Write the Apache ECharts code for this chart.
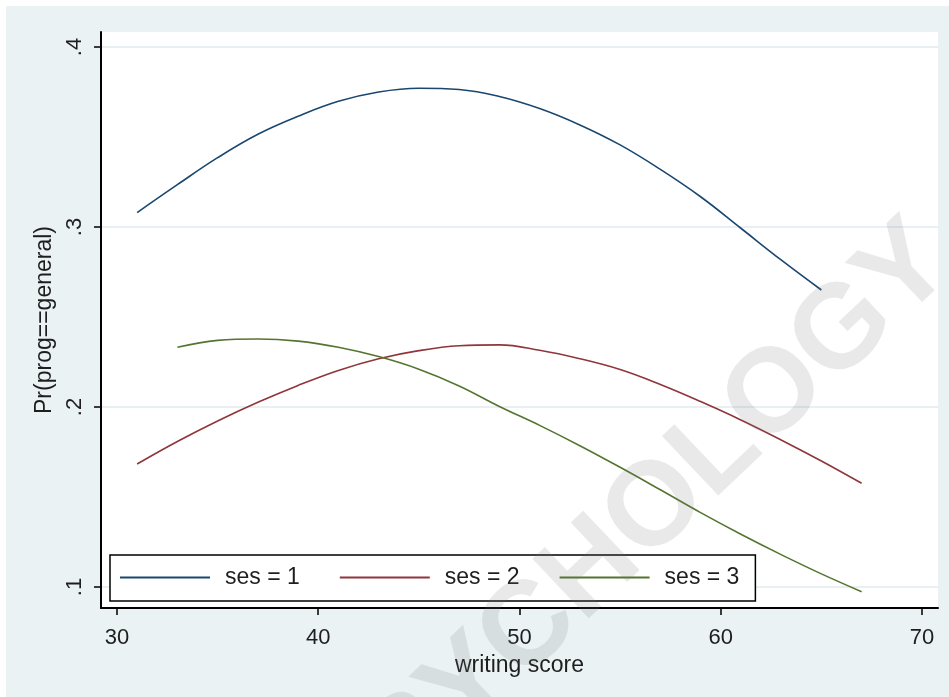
<!DOCTYPE html>
<html>
<head>
<meta charset="utf-8">
<script src="https://cdn.jsdelivr.net/npm/echarts@6/dist/echarts.min.js"></script>
<style>
html,body{margin:0;padding:0;background:#ffffff;width:949px;height:697px;overflow:hidden;}
#chart{position:absolute;left:6px;top:6px;width:943px;height:691px;}
</style>
</head>
<body>
<div id="chart"></div>
<script>
// ---- data ----
const seriesNames = ['ses = 1', 'ses = 2', 'ses = 3'];
const ses1X = [31, 33, 35, 37, 39, 41, 43, 45, 47, 49, 51, 53, 55, 57, 59, 61, 63, 65];
const ses1Y = [0.308, 0.3235, 0.3385, 0.3515, 0.3615, 0.3698, 0.375, 0.3771, 0.3764, 0.3725, 0.3658, 0.3567, 0.3456, 0.332, 0.3168, 0.2993, 0.2817, 0.265];
const ses2X = [31, 33, 35, 37, 39, 41, 43, 45, 47, 49, 51, 53, 55, 57, 59, 61, 63, 65, 67];
const ses2Y = [0.1683, 0.1808, 0.1922, 0.2026, 0.212, 0.2203, 0.2268, 0.2313, 0.234, 0.2345, 0.2315, 0.2268, 0.2208, 0.2125, 0.203, 0.1928, 0.1817, 0.170, 0.1576];
const ses3X = [33, 35, 37, 39, 41, 43, 45, 47, 49, 51, 53, 55, 57, 59, 61, 63, 65, 67];
const ses3Y = [0.2332, 0.237, 0.2378, 0.2366, 0.2332, 0.228, 0.221, 0.2117, 0.2003, 0.1898, 0.1785, 0.1665, 0.154, 0.1413, 0.1293, 0.118, 0.1073, 0.0974];
const xTicks = [30, 40, 50, 60, 70];
const yTicks = [0.1, 0.2, 0.3, 0.4];
const yTickLabels = ['.1', '.2', '.3', '.4'];
const xTitle = 'writing score';
const yTitle = 'Pr(prog==general)';
const watermark = 'PSYCHOLOGY';

const colors = ['#1a476f', '#90353b', '#55752f'];
const FONT = '"Liberation Sans", Arial, sans-serif';
const TXT = '#1e1e1e';

function pairs(xs, ys) { return xs.map((x, i) => [x, ys[i]]); }
const yLabelMap = {};
yTicks.forEach((v, i) => { yLabelMap[Math.round(v * 1000)] = yTickLabels[i]; });

const chart = echarts.init(document.getElementById('chart'), null, { renderer: 'canvas' });
const option = {
  backgroundColor: '#eaf2f3',
  animation: false,
  textStyle: { fontFamily: FONT },
  grid: {
    left: 95, right: 11, top: 26, bottom: 89,
    show: true, backgroundColor: '#ffffff', borderWidth: 0
  },
  xAxis: {
    type: 'value',
    min: 29.205, max: 70.795,
    name: xTitle, nameLocation: 'middle', nameGap: 33,
    nameTextStyle: { fontSize: 23, color: TXT, fontFamily: FONT },
    axisLine: { show: true, onZero: false, lineStyle: { color: '#000', width: 2 } },
    axisTick: { show: true, customValues: xTicks, length: 7, lineStyle: { color: '#000', width: 1.5 } },
    axisLabel: { customValues: xTicks, fontSize: 22, color: TXT, margin: 19, fontFamily: FONT },
    splitLine: { show: false }
  },
  yAxis: {
    type: 'value',
    min: 0.08833, max: 0.40833,
    name: yTitle, nameLocation: 'middle', nameGap: 41,
    nameTextStyle: { fontSize: 23, color: TXT, fontFamily: FONT },
    axisLine: { show: true, onZero: false, lineStyle: { color: '#000', width: 2 } },
    axisTick: { show: true, customValues: yTicks, length: 7, lineStyle: { color: '#000', width: 1.5 } },
    axisLabel: {
      customValues: yTicks, rotate: 90, fontSize: 22, color: TXT, margin: 15, fontFamily: FONT,
      formatter: v => yLabelMap[Math.round(v * 1000)] || ''
    },
    splitLine: { show: true, lineStyle: { color: '#e8f0f3', width: 2 } }
  },
  legend: {
    show: true,
    left: 104, top: 549,
    orient: 'horizontal',
    backgroundColor: '#ffffff',
    borderColor: '#000', borderWidth: 1.5, borderRadius: 0,
    padding: [11, 16, 12, 10],
    itemGap: 40,
    itemWidth: 90, itemHeight: 2,
    icon: 'rect',
    textStyle: { fontSize: 23, color: TXT, fontFamily: FONT, padding: [0, 0, 0, 10], lineHeight: 22 },
    data: seriesNames
  },
  series: [
    { name: seriesNames[0], type: 'line', data: pairs(ses1X, ses1Y), smooth: 0.4, showSymbol: false,
      lineStyle: { color: colors[0], width: 1.6 }, itemStyle: { color: colors[0] } },
    { name: seriesNames[1], type: 'line', data: pairs(ses2X, ses2Y), smooth: 0.4, showSymbol: false,
      lineStyle: { color: colors[1], width: 1.6 }, itemStyle: { color: colors[1] } },
    { name: seriesNames[2], type: 'line', data: pairs(ses3X, ses3Y), smooth: 0.4, showSymbol: false,
      lineStyle: { color: colors[2], width: 1.6 }, itemStyle: { color: colors[2] } }
  ],
  graphic: [
    {
      type: 'text', x: 624, y: 528, rotation: 0.759, z: 100, silent: true,
      style: {
        text: watermark, font: 'bold 119px "Liberation Sans", Arial, sans-serif',
        fill: 'rgba(120,120,120,0.16)', align: 'center', verticalAlign: 'middle'
      }
    }
  ]
};
chart.setOption(option);
</script>
</body>
</html>
